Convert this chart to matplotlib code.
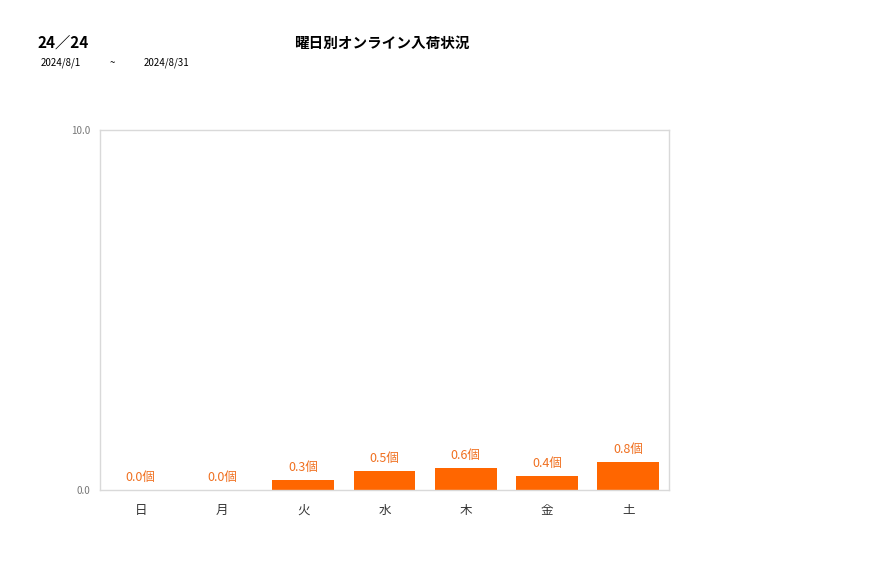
import matplotlib.pyplot as plt

plt.rcParams['font.family'] = ['Noto Sans CJK JP', 'DejaVu Sans']

days = ["日", "月", "火", "水", "木", "金", "土"]
counts = [0.0, 0.0, 0.27, 0.53, 0.61, 0.39, 0.78]
y_ticks = [0.0, 10.0]

W, H = 877, 578
fig = plt.figure(figsize=(W / 100, H / 100), dpi=100)
ax = fig.add_axes([100 / W, 1 - 490 / H, 569 / W, 360 / H])

x = range(len(days))
ax.bar(x, counts, width=0.76, color="#ff6600")
for i, v in zip(x, counts):
    ax.text(i, v + 0.17, f"{v:.1f}個", ha="center", va="bottom",
            fontsize=9, color="#f07020")

ax.set_xlim(-0.5, len(days) - 0.5)
ax.set_ylim(0, 10)
ax.set_xticks(list(x))
ax.set_xticklabels(days, fontsize=9, color="#333333")
ax.set_yticks(y_ticks)
ax.set_yticklabels([f"{t:.1f}" for t in y_ticks], fontsize=7, color="#777777")
ax.tick_params(length=0, pad=10)
ax.tick_params(axis="y", pad=7)
for s in ax.spines.values():
    s.set_color("#d9d9d9")
    s.set_linewidth(1)

fig.text(37 / W, 1 - 43 / H, "24／24", fontsize=11, fontweight="bold",
         va="center", ha="left")
fig.text(41 / W, 1 - 63 / H, "2024/8/1", fontsize=7, va="center")
fig.text(110 / W, 1 - 63 / H, "~", fontsize=7, va="center")
fig.text(144 / W, 1 - 63 / H, "2024/8/31", fontsize=7, va="center")
fig.text(382 / W, 1 - 43 / H, "曜日別オンライン入荷状況", fontsize=10.5,
         fontweight="bold", ha="center", va="center")

fig.savefig("out.png", dpi=100)
